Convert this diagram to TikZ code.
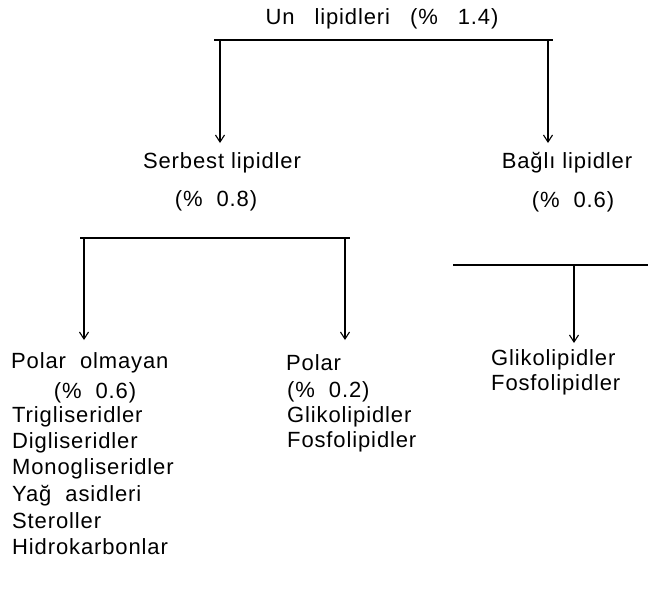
\documentclass[tikz,border=0pt]{standalone}
\usepackage{fontspec}
\setmainfont{Liberation Sans}[LetterSpace=4]
\usetikzlibrary{positioning,arrows.meta}

\begin{document}
\begin{tikzpicture}[x=1pt,y=-1pt,
    lbl/.style={font=\fontsize{22}{26}\selectfont, inner sep=0pt},
    item/.style={lbl, anchor=west},
    bar/.style={line width=2.4pt},
    down/.style={line width=1.1pt, -{Straight Barb[length=7pt,width=9pt,line width=1.1pt]}}]

    \useasboundingbox (0,0) rectangle (648,614);

    % top level
    \node[lbl] (un) at (382,19) {Un\hspace{20pt}lipidleri\hspace{20pt}(\%\hspace{20pt}1.4)};
    \coordinate (barAL) at (214,40);
    \coordinate (barAR) at (553,40);
    \draw[bar] (barAL) -- (barAR);

    % second level
    \node[lbl] (serb) at (222,163) {Serbest lipidler};
    \node[lbl] (serbp) at (216,201) {(\%\ \ 0.8)};
    \node[lbl] (bagli) at (567,163) {Bağlı lipidler};
    \node[lbl] (baglip) at (573,202) {(\%\ \ 0.6)};

    \coordinate (dA1) at (220,40);
    \coordinate (dA2) at (548,40);
    \draw[down] (dA1) -- (dA1 |- 0,143);
    \draw[down] (dA2) -- (dA2 |- 0,143);

    % bars under the second level
    \coordinate (barBL) at (80,238);
    \coordinate (barBR) at (350,238);
    \draw[bar] (barBL) -- (barBR);
    \coordinate (barCL) at (453,265);
    \coordinate (barCR) at (648,265);
    \draw[bar] (barCL) -- (barCR);

    \coordinate (dB1) at (84,238);
    \coordinate (dB2) at (345,238);
    \coordinate (dC1) at (574,265);
    \draw[down] (dB1) -- (dB1 |- 0,340);
    \draw[down] (dB2) -- (dB2 |- 0,340);
    \draw[down] (dC1) -- (dC1 |- 0,343);

    % third level, left
    \node[item] (npol) at (11,363) {Polar\ \ olmayan};
    \node[lbl] (npolp) at (95,393) {(\%\ \ 0.6)};
    \node[item] (tri) at (12,417) {Trigliseridler};
    \node[item] (di) at (12,443) {Digliseridler};
    \node[item] (mono) at (12,469) {Monogliseridler};
    \node[item] (yag) at (12,496) {Yağ\ \ asidleri};
    \node[item] (ster) at (12,521) {Steroller};
    \node[item] (hidro) at (12,547) {Hidrokarbonlar};

    % third level, middle
    \node[item] (pol) at (286,363) {Polar};
    \node[item] (polp) at (287,392) {(\%\ \ 0.2)};
    \node[item] (pgli) at (287,417) {Glikolipidler};
    \node[item] (pfos) at (287,442) {Fosfolipidler};

    % third level, right
    \node[item] (bgli) at (491,360) {Glikolipidler};
    \node[item] (bfos) at (491,385) {Fosfolipidler};

\end{tikzpicture}
\end{document}
